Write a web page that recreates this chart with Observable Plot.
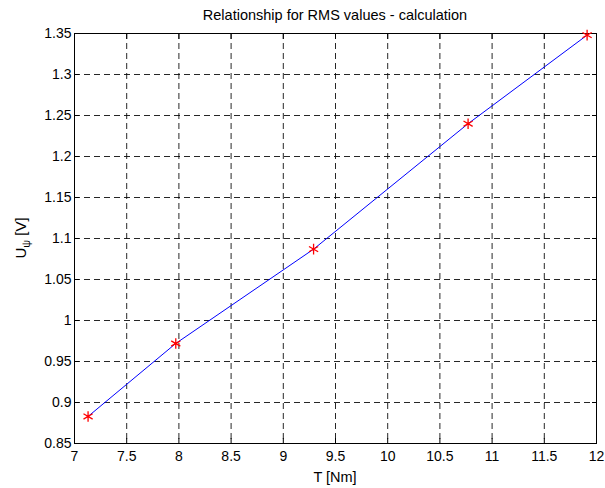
<!DOCTYPE html>
<html>
<head>
<meta charset="utf-8">
<script src="https://cdn.jsdelivr.net/npm/d3@7"></script>
<script src="https://cdn.jsdelivr.net/npm/@observablehq/plot@0.6"></script>
<style>
  html, body { margin: 0; padding: 0; background: #fff; }
  #chart { width: 605px; height: 488px; }
  svg { font-family: "Liberation Sans", Arial, Helvetica, sans-serif; }
</style>
</head>
<body>
<div id="chart"></div>
<script>
const torque = [7.13, 7.97, 9.29, 10.77, 11.91];
const voltage = [0.883, 0.972, 1.087, 1.240, 1.348];
const xTicks = [7, 7.5, 8, 8.5, 9, 9.5, 10, 10.5, 11, 11.5, 12];
const yTicks = [0.85, 0.9, 0.95, 1, 1.05, 1.1, 1.15, 1.2, 1.25, 1.3, 1.35];
const titleText = "Relationship for RMS values - calculation";
const xLabel = "T [Nm]";

const data = torque.map((t, i) => ({t, u: voltage[i]}));
const fmt = d => String(+d.toFixed(2));

const W = 605, H = 488;
const mL = 74, mR = 9, mT = 33, mB = 45;

const chart = Plot.plot({
  width: W,
  height: H,
  marginLeft: mL,
  marginRight: mR,
  marginTop: mT,
  marginBottom: mB,
  style: {fontFamily: '"Liberation Sans", Arial, sans-serif', fontSize: "14px", color: "#000", background: "#fff"},
  x: {domain: [7, 12]},
  y: {domain: [0.85, 1.35]},
  marks: [
    Plot.ruleX(xTicks.slice(1, -1), {stroke: "#000", strokeOpacity: 0.85, strokeDasharray: "6,4", strokeWidth: 1}),
    Plot.ruleY(yTicks.slice(1, -1), {stroke: "#000", strokeOpacity: 0.85, strokeDasharray: "6,4", strokeWidth: 1}),
    Plot.frame({stroke: "#000", strokeWidth: 1}),
    Plot.axisX(xTicks, {anchor: "bottom", tickSize: -5, tickPadding: 13, tickFormat: fmt, label: null, fontSize: 14}),
    Plot.axisX(xTicks, {anchor: "top", tickSize: -5, tickFormat: () => "", label: null}),
    Plot.axisY(yTicks, {anchor: "left", tickSize: -5, tickPadding: 8, tickFormat: fmt, label: null, fontSize: 14}),
    Plot.axisY(yTicks, {anchor: "right", tickSize: -5, tickFormat: () => "", label: null}),
    Plot.line(data, {x: "t", y: "u", stroke: "#0000ff", strokeWidth: 1}),
    Plot.dot(data, {x: "t", y: "u", symbol: "asterisk", r: 5, stroke: "#ff0000", strokeWidth: 1.3})
  ]
});

const svg = d3.select(chart);
const plotCx = mL + (W - mL - mR) / 2;
svg.append("text")
  .attr("x", plotCx).attr("y", 20)
  .attr("text-anchor", "middle")
  .attr("font-size", 14.5)
  .attr("fill", "#000")
  .text(titleText);
svg.append("text")
  .attr("x", plotCx).attr("y", 482)
  .attr("text-anchor", "middle")
  .attr("font-size", 14.5)
  .attr("fill", "#000")
  .text(xLabel);
const yl = svg.append("text")
  .attr("transform", `translate(26, ${mT + (H - mT - mB) / 2}) rotate(-90)`)
  .attr("text-anchor", "middle")
  .attr("font-size", 15)
  .attr("fill", "#000");
yl.append("tspan").text("U");
yl.append("tspan").attr("dy", 4).attr("font-size", 11).text("ψ");
yl.append("tspan").attr("dy", -4).text(" [V]");

document.getElementById("chart").appendChild(chart);
</script>
</body>
</html>
